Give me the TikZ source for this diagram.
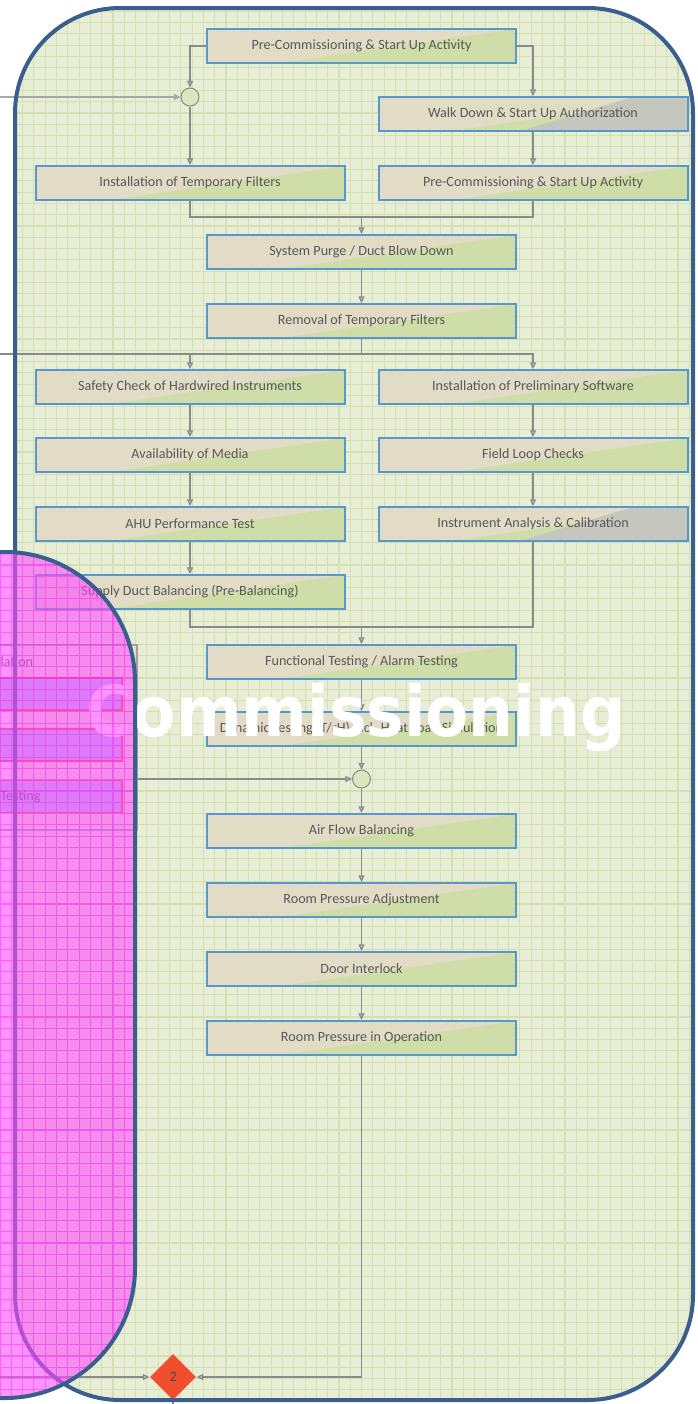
\documentclass[tikz,border=0pt]{standalone}
\usepackage{fontspec}
\setmainfont{Carlito}
\newfontfamily\bannerfont{DejaVu Sans}
\usetikzlibrary{arrows.meta,shapes.geometric}

\definecolor{panelgreen}{RGB}{231,238,213}
\definecolor{gridgreen}{RGB}{210,224,178}
\definecolor{frameblue}{RGB}{58,95,143}
\definecolor{boxtan}{RGB}{226,220,198}
\definecolor{boxgreen}{RGB}{207,222,168}
\definecolor{boxgrey}{RGB}{197,199,191}
\definecolor{boxline}{RGB}{86,152,204}
\definecolor{linkgrey}{RGB}{138,138,138}
\definecolor{textgrey}{RGB}{88,88,88}
\definecolor{redstop}{RGB}{240,78,46}
\definecolor{redline}{RGB}{255,70,70}
\definecolor{paleblue}{RGB}{170,196,240}
\definecolor{lanepink}{RGB}{255,75,255}
\definecolor{lanegrid}{RGB}{240,40,240}

\tikzset{every picture/.style={line width=0.75pt}}
\tikzset{
  stepbox/.style={rectangle, draw=boxline, line width=1.5pt, fill=boxtan,
    minimum width=231.75pt, minimum height=25.5pt, inner sep=0pt,
    text=textgrey, font=\fontsize{10.6}{12}\selectfont,
    path picture={\fill[boxgreen] ([xshift=-60pt]path picture bounding box.south)
      -- (path picture bounding box.north east)
      -- (path picture bounding box.south east) -- cycle;}},
  greybox/.style={stepbox,
    path picture={\fill[boxgreen] ([xshift=-60pt]path picture bounding box.south)
      -- (path picture bounding box.north east)
      -- (path picture bounding box.south east) -- cycle;
      \fill[boxgrey] ([xshift=-10pt]path picture bounding box.south)
      -- ([xshift=75pt]path picture bounding box.north)
      -- (path picture bounding box.north east)
      -- (path picture bounding box.south east) -- cycle;}},
  junction/.style={circle, draw=linkgrey, fill=gridgreen!80!white, minimum size=13.5pt, inner sep=0pt},
  stopmark/.style={diamond, fill=redstop, minimum width=34.5pt, minimum height=34.5pt, inner sep=0pt,
    text=black!70, font=\fontsize{11}{12}\selectfont},
  link/.style={draw=linkgrey, line width=0.9pt},
  arr/.style={link, -{Triangle[length=5pt,width=4.5pt,fill=linkgrey!55]}},
  leftbox/.style={rectangle, draw=redline, line width=1.2pt, fill=paleblue, minimum width=106.5pt, minimum height=24pt, inner sep=0pt},
  fadetext/.style={text=textgrey, font=\fontsize{10.6}{12}\selectfont, inner sep=0pt}
}

\begin{document}
\begin{tikzpicture}[x=0.75pt,y=0.75pt,yscale=-1,xscale=1]
\useasboundingbox (0,0) rectangle (698,1404);

%Shape: Rounded Rect [id:panel]
\fill[panelgreen, rounded corners=78.75pt] (15,8) rectangle (693,1400);
\begin{scope}
\clip[rounded corners=78.75pt] (15,8) rectangle (693,1400);
\draw[gridgreen, line width=0.8pt, step=11.3] (0,0) grid (698,1404);
\end{scope}

%Shape: left group (other lane)
\node[draw=linkgrey!80, line width=1pt, minimum width=117.75pt, minimum height=138.75pt, inner sep=0pt] (lgrp) at (58.5,737.5) {};
\node[leftbox] (lra) at (51,694) {};
\node[leftbox] (lrb) at (51,745) {};
\node[leftbox] (lrc) at (51,796.5) {};
% Text Node
\node[fadetext, anchor=west] (lgrptxt) at (0,662) {lation};
% Text Node
\node[fadetext, anchor=west] (lrctxt) at (0,797) {Testing};

%Shape: steps
\node[stepbox] (pcsua) at (361.5,46) {Pre-Commissioning \& Start Up Activity};
\node[junction] (mrga) at (190,97) {};
\node[greybox] (wdsa) at (533,114) {Walk Down \& Start Up Authorization};
\node[stepbox] (itf) at (190,183) {Installation of Temporary Filters};
\node[stepbox] (pcsub) at (533,183) {Pre-Commissioning \& Start Up Activity};
\node[stepbox] (spdb) at (361.5,252) {System Purge / Duct Blow Down};
\node[stepbox] (rtf) at (361.5,321) {Removal of Temporary Filters};
\node[stepbox] (schi) at (190,387) {Safety Check of Hardwired Instruments};
\node[stepbox] (ips) at (533,387) {Installation of Preliminary Software};
\node[stepbox] (aom) at (190,455) {Availability of Media};
\node[stepbox] (flc) at (533,455) {Field Loop Checks};
\node[stepbox] (ahu) at (190,524) {AHU Performance Test};
\node[greybox] (iac) at (533,524) {Instrument Analysis \& Calibration};
\node[stepbox] (sdb) at (190,592) {Supply Duct Balancing (Pre-Balancing)};
\node[stepbox] (ftat) at (361.5,662) {Functional Testing / Alarm Testing};
\node[stepbox] (dyn) at (361.5,729) {Dynamic Testing (T/rH) incl. Heat Load Simulation};
\node[junction] (mrgb) at (361.5,779) {};
\node[stepbox] (afb) at (361.5,831) {Air Flow Balancing};
\node[stepbox] (rpa) at (361.5,900) {Room Pressure Adjustment};
\node[stepbox] (dil) at (361.5,969) {Door Interlock};
\node[stepbox] (rpo) at (361.5,1038) {Room Pressure in Operation};
\node[stopmark] (stop) at (173,1377) {2};

%Straight Lines
\coordinate (ina) at (0,97);
\coordinate (inb) at (0,354);
\coordinate (inc) at (0,1377);
\coordinate (outc) at (173,1404);
\coordinate (j1) at (361.5,217);
\coordinate (j2) at (361.5,354);
\coordinate (j3) at (361.5,627);

\draw[arr] (pcsua.west) -| (mrga.north);
\draw[arr] (pcsua.east) -| (wdsa.north);
\draw[arr, draw=linkgrey!75, line width=2pt] (ina) -- (mrga.west);
\draw[arr] (mrga.south) -- (itf.north);
\draw[arr] (wdsa.south) -- (pcsub.north);
\draw[link] (itf.south) |- (j1);
\draw[link] (pcsub.south) |- (j1);
\draw[arr] (j1) -- (spdb.north);
\draw[arr] (spdb.south) -- (rtf.north);
\draw[link] (rtf.south) -- (j2);
\draw[link] (inb) -- (j2);
\draw[arr] (j2) -| (schi.north);
\draw[arr] (j2) -| (ips.north);
\draw[arr] (schi.south) -- (aom.north);
\draw[arr] (aom.south) -- (ahu.north);
\draw[arr] (ahu.south) -- (sdb.north);
\draw[arr] (ips.south) -- (flc.north);
\draw[arr] (flc.south) -- (iac.north);
\draw[link] (sdb.south) |- (j3);
\draw[link] (iac.south) |- (j3);
\draw[arr] (j3) -- (ftat.north);
\draw[arr] (ftat.south) -- (dyn.north);
\draw[arr] (dyn.south) -- (mrgb.north);
\draw[arr] (lgrp.east |- mrgb) -- (mrgb.west);
\draw[arr] (mrgb.south) -- (afb.north);
\draw[arr] (afb.south) -- (rpa.north);
\draw[arr] (rpa.south) -- (dil.north);
\draw[arr] (dil.south) -- (rpo.north);
\draw[arr] (rpo.south) |- (stop.east);
\draw[arr] (inc) -- (stop.west);
\draw[link] (stop.south) -- (outc);

% Text Node
\node[text=white, anchor=base, inner sep=0pt] (banner) at (356,736)
  {\scalebox{0.9}[1]{\bannerfont\bfseries\fontsize{52.5}{60}\selectfont Commissioning}};

%Shape: panel frame
\draw[frameblue, line width=3pt, rounded corners=78.75pt] (15,8) rectangle (693,1400);

%Shape: Rounded Rect [id:lane]
\fill[lanepink, opacity=0.6, rounded corners=97.5pt] (-300,552) rectangle (135,1398);
\begin{scope}
\clip[rounded corners=97.5pt] (-300,552) rectangle (135,1398);
\draw[lanegrid, opacity=0.45, line width=0.8pt, step=11.3] (0,540) grid (140,1404);
\end{scope}
\draw[frameblue, line width=3pt, rounded corners=97.5pt] (-300,552) rectangle (135,1398);

\end{tikzpicture}
\end{document}
